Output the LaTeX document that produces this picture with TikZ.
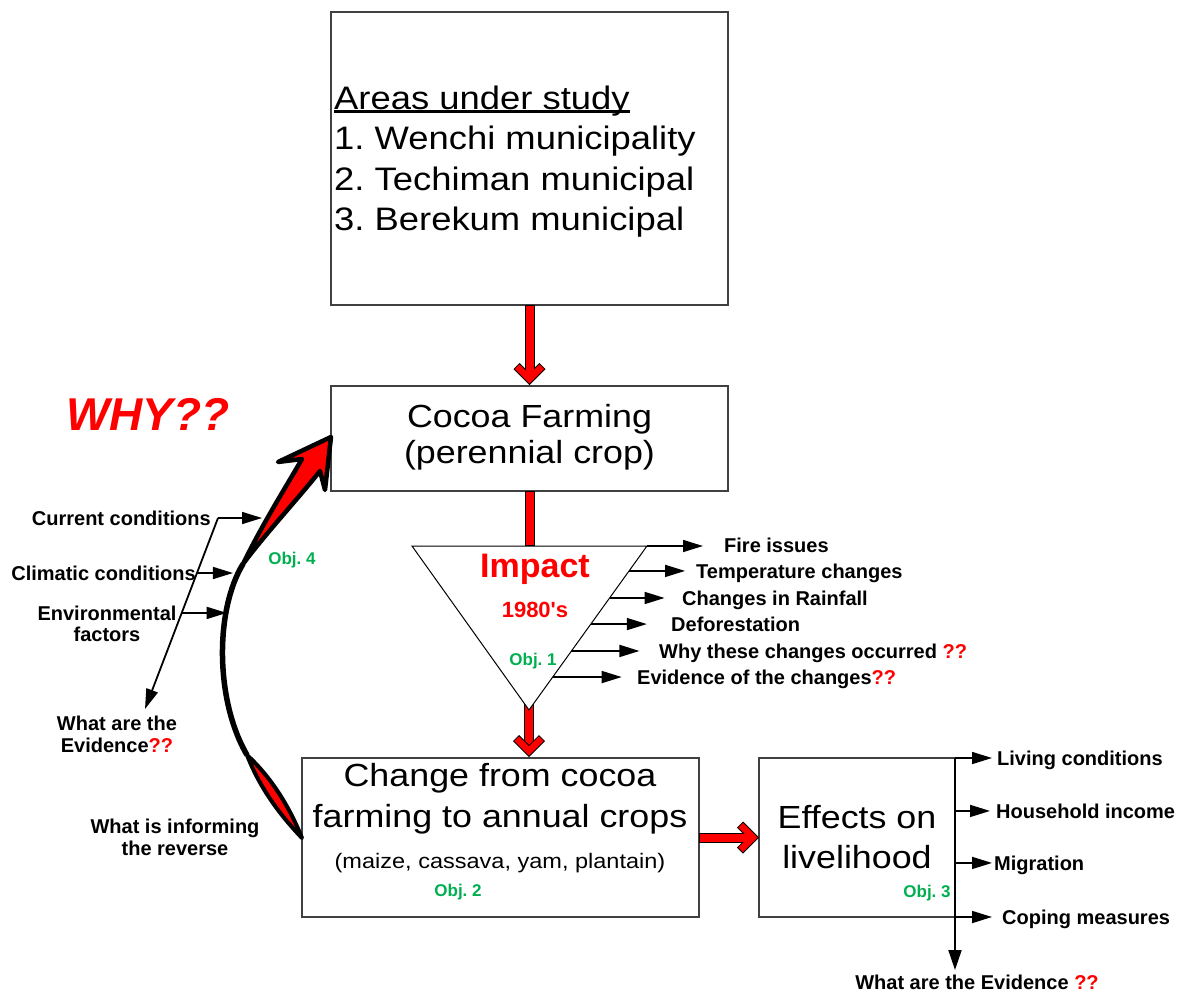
\documentclass[tikz,border=0pt]{standalone}
\usepackage{fontspec}
\setmainfont{Liberation Sans}
\newfontfamily\stretchf[FakeStretch=1.12]{Liberation Sans}
\usetikzlibrary{arrows.meta,calc}
\definecolor{objgreen}{RGB}{0,176,80}
\definecolor{boxgray}{RGB}{64,64,64}
\frenchspacing
\tikzset{
  box/.style={draw=boxgray, line width=1.3pt, fill=white, inner sep=0pt, outer sep=0pt},
  bigtxt/.style={inner sep=0pt, font=\stretchf\fontsize{32}{36}\selectfont},
  boxatxt/.style={inner sep=0pt, font=\stretchf\fontsize{32.5}{36}\selectfont},
  midtxt/.style={inner sep=0pt, font=\stretchf\fontsize{21}{24}\selectfont},
  lbl/.style={inner sep=0pt, font=\fontsize{20}{22}\selectfont\bfseries},
  objtxt/.style={inner sep=0pt, text=objgreen, font=\fontsize{17}{20}\selectfont\bfseries},
  thinarr/.style={line width=1.6pt, -{Triangle[length=20pt,width=12pt]}},
  shaftout/.style={line width=10pt, black},
  shaftin/.style={line width=8pt, red},
  chevout/.style={line width=8.5pt, black, line join=miter, miter limit=10},
  chevin/.style={line width=6.5pt, red, line join=miter, miter limit=10, shorten <=1pt, shorten >=1pt},
}
\begin{document}
\begin{tikzpicture}[x=1pt,y=-1pt]
\useasboundingbox (0,0) rectangle (1187,991);
\fill[white] (0,0) rectangle (1187,991);

% boxes
\node[box, minimum width=397pt, minimum height=293pt] (A) at (529.5,158.5) {};
\node[box, minimum width=397pt, minimum height=105pt] (B) at (529.5,438.5) {};
\node[box, minimum width=397pt, minimum height=159pt] (C) at (500.5,837.5) {};
\node[box, minimum width=196pt, minimum height=159pt] (D) at (857,837.5) {};

% triangle corners
\coordinate (TL) at (412,546);
\coordinate (TR) at (647,546);
\coordinate (TA) at (529,710);
\coordinate (Ttop) at (529.5,546);

% red arrow A -> B
\coordinate (ab) at ($(B.north)+(0,-7)$);
\draw[shaftout] (A.south) -- ($(ab)+(0,-3)$);
\draw[chevout] ($(ab)+(-13,-13)$) -- (ab) -- ($(ab)+(13,-13)$);
\draw[shaftin] ($(A.south)+(0,1)$) -- ($(ab)+(0,-3)$);
\draw[chevin] ($(ab)+(-13,-13)$) -- (ab) -- ($(ab)+(13,-13)$);

% red shaft B -> triangle
\draw[shaftout] (B.south) -- (Ttop);
\draw[shaftin] ($(B.south)+(0,1)$) -- ($(Ttop)+(0,-1)$);

% red arrow triangle -> C (shaft)
\coordinate (tc) at ($(TA |- C.north)+(0,-7)$);
\draw[shaftout] ($(TA)+(0,-10)$) -- ($(tc)+(0,-3)$);
\draw[shaftin] ($(TA)+(0,-10)$) -- ($(tc)+(0,-3)$);

% triangle
\draw[fill=white, line width=1pt] (TL) -- (TR) -- (TA) -- cycle;

% chevron triangle -> C
\draw[chevout] ($(tc)+(-13,-13)$) -- (tc) -- ($(tc)+(13,-13)$);
\draw[chevin] ($(tc)+(-13,-13)$) -- (tc) -- ($(tc)+(13,-13)$);

% red arrow C -> D
\coordinate (cd) at ($(D.west)+(-6,0)$);
\draw[shaftout] (C.east) -- ($(cd)+(-3,0)$);
\draw[chevout] ($(cd)+(-13,-13)$) -- (cd) -- ($(cd)+(-13,13)$);
\draw[shaftin] ($(C.east)+(1,0)$) -- ($(cd)+(-3,0)$);
\draw[chevin] ($(cd)+(-13,-13)$) -- (cd) -- ($(cd)+(-13,13)$);

% box texts
\node[boxatxt, anchor=base west] (a0) at (334,109) {Areas under study};
\draw[line width=2.2pt] ([yshift=-2.5pt]a0.base west) -- ([yshift=-2.5pt]a0.base east);
\node[boxatxt, anchor=base west] (a1) at (334,149) {1. Wenchi municipality};
\node[boxatxt, anchor=base west] (a2) at (334,190) {2. Techiman municipal};
\node[boxatxt, anchor=base west] (a3) at (334,230) {3. Berekum municipal};

\node[bigtxt, anchor=base] (b1) at (529.5,427) {Cocoa Farming};
\node[bigtxt, anchor=base] (b2) at (529.5,463) {(perennial crop)};

\node[bigtxt, anchor=base] (c1) at (500,786) {Change from cocoa};
\node[bigtxt, anchor=base] (c2) at (500,827) {farming to annual crops};
\node[midtxt, anchor=base] (c3) at (500,868) {(maize, cassava, yam, plantain)};
\node[objtxt, anchor=base] (o2) at (458,896) {Obj. 2};

\node[bigtxt, anchor=base] (d1) at (857,828) {Effects on};
\node[bigtxt, anchor=base] (d2) at (857,868) {livelihood};
\node[objtxt, anchor=base] (o3) at (927,897) {Obj. 3};

% triangle texts
\node[inner sep=0pt, text=red, font=\fontsize{34}{38}\selectfont\bfseries, anchor=base] (imp) at (535,577) {Impact};
\node[inner sep=0pt, text=red, font=\fontsize{22}{26}\selectfont\bfseries, anchor=base] (yr) at (535,617) {1980\textquotesingle s};
\node[objtxt, anchor=base] (o1) at (533,665) {Obj. 1};

% triangle side arrows
\coordinate (e2) at ($(TR)!0.152!(TA)$);
\coordinate (e3) at ($(TR)!0.317!(TA)$);
\coordinate (e4) at ($(TR)!0.476!(TA)$);
\coordinate (e5) at ($(TR)!0.640!(TA)$);
\coordinate (e6) at ($(TR)!0.799!(TA)$);
\draw[thinarr] (TR) -- ++(56,0);
\draw[thinarr] (e2) -- ++(56,0);
\draw[thinarr] (e3) -- ++(55,0);
\draw[thinarr] (e4) -- ++(56,0);
\draw[thinarr] (e5) -- ++(68,0);
\draw[thinarr] (e6) -- ++(69,0);
\node[lbl, anchor=base west] (t1) at (724,552) {Fire issues};
\node[lbl, anchor=base west] (t2) at (696,578) {Temperature changes};
\node[lbl, anchor=base west] (t3) at (682,605) {Changes in Rainfall};
\node[lbl, anchor=base west] (t4) at (671,631) {Deforestation};
\node[lbl, anchor=base west] (t5) at (659,658) {Why these changes occurred {\color{red}??}};
\node[lbl, anchor=base west] (t6) at (637,684) {Evidence of the changes{\color{red}??}};

% effects side
\coordinate (V1) at (955,970);
\draw[line width=2pt, -{Triangle[length=20pt,width=13pt]}] (D.north east) -- (V1);
\coordinate (f2) at ($(D.north east)!0.333!(D.south east)$);
\coordinate (f3) at ($(D.north east)!0.66!(D.south east)$);
\draw[thinarr] (D.north east) -- ++(37,0);
\draw[thinarr] (f2) -- ++(35,0);
\draw[thinarr] (f3) -- ++(37,0);
\draw[thinarr] (D.south east) -- ++(37,0);
\node[lbl, anchor=base west] (r1) at (997,765) {Living conditions};
\node[lbl, anchor=base west] (r2) at (996,818) {Household income};
\node[lbl, anchor=base west] (r3) at (994,870) {Migration};
\node[lbl, anchor=base west] (r4) at (1002,924) {Coping measures};
\node[lbl, anchor=base] (r5) at (977,989) {What are the Evidence {\color{red}??}};

% WHY
\node[inner sep=0pt, text=red, font=\fontsize{46}{50}\selectfont\bfseries\itshape, anchor=base west] (why) at (66,430) {WHY??};

% big curved arrow
\coordinate (L0) at (247,755);
\coordinate (L1) at (302,838);
\coordinate (H0) at (243,564);
\coordinate (Htip) at (331,437);
\draw[line width=5.5pt] (L0) .. controls (215,700) and (215,610) .. (H0);
\draw[line width=4pt, fill=red, line join=round] (L0) .. controls (259,786) and (278,813) .. (L1) .. controls (290,808) and (272,778) .. (L0) -- cycle;
\draw[line width=4.5pt, fill=red, line join=round] (H0) .. controls (262,525) and (284,490) .. (302,459) -- (278,462) -- (Htip) -- (325,490) -- (320,471) .. controls (297,500) and (266,533) .. (H0) -- cycle;

% left diagonal and arrows
\coordinate (D0) at (218,518);
\coordinate (D1) at (145,709);
\draw[line width=1.8pt, -{Triangle[length=20pt,width=12pt]}] (D0) -- (D1);
\coordinate (g2) at ($(D0)!0.288!(D1)$);
\coordinate (g3) at ($(D0)!0.497!(D1)$);
\draw[thinarr] (D0) -- ++(44,0);
\draw[thinarr] (g2) -- ++(36,0);
\draw[thinarr] (g3) -- ++(45,0);

\node[lbl, anchor=base east] (l1) at (211,525) {Current conditions};
\node[lbl, anchor=base east] (l2) at (196,580) {Climatic conditions};
\node[lbl, anchor=base] (l3a) at (107,620) {Environmental};
\node[lbl, anchor=base] (l3b) at (107,641) {factors};
\node[lbl, anchor=base] (l4a) at (117,730) {What are the};
\node[lbl, anchor=base] (l4b) at (117,752) {Evidence{\color{red}??}};
\node[lbl, anchor=base] (l5a) at (175,833) {What is informing};
\node[lbl, anchor=base] (l5b) at (175,855) {the reverse};
\node[objtxt, anchor=base] (o4) at (292,564) {Obj. 4};
\end{tikzpicture}
\end{document}
